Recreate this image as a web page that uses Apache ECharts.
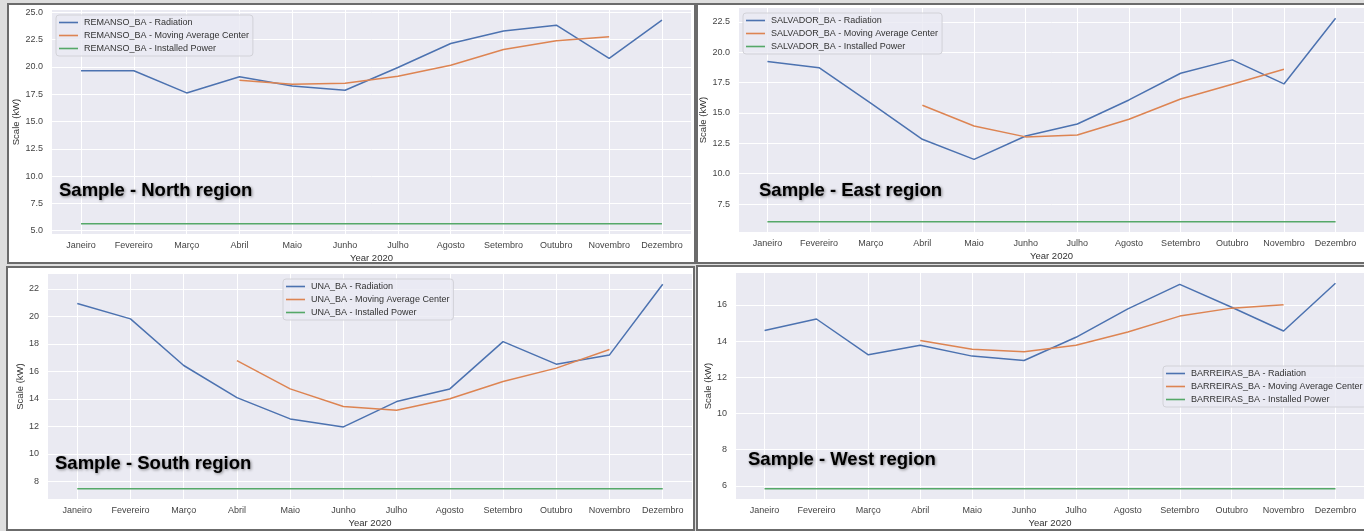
<!DOCTYPE html>
<html>
<head>
<meta charset="utf-8">
<script src="https://cdn.jsdelivr.net/npm/echarts@6/dist/echarts.min.js"></script>
<style>
  html, body { margin: 0; padding: 0; background: #dedede; }
  #main { width: 1364px; height: 531px; }
</style>
</head>
<body>
<div id="main"></div>
<script>
var months = ['Janeiro', 'Fevereiro', 'Março', 'Abril', 'Maio', 'Junho', 'Julho', 'Agosto', 'Setembro', 'Outubro', 'Novembro', 'Dezembro']

// North - REMANSO_BA
var remansoRad = [19.65, 19.65, 17.62, 19.1, 18.26, 17.87, 19.95, 22.15, 23.3, 23.83, 20.78, 24.29]
var remansoAvg = [null, null, null, 18.78, 18.42, 18.5, 19.15, 20.16, 21.6, 22.4, 22.76, null]
var remansoPow = [5.62, 5.62, 5.62, 5.62, 5.62, 5.62, 5.62, 5.62, 5.62, 5.62, 5.62, 5.62]
// East - SALVADOR_BA
var salvadorRad = [19.23, 18.73, 15.8, 12.83, 11.18, 13.1, 14.09, 16.07, 18.27, 19.37, 17.39, 22.8]
var salvadorAvg = [null, null, null, 15.63, 13.93, 13.03, 13.18, 14.48, 16.15, 17.36, 18.6, null]
var salvadorPow = [6.04, 6.04, 6.04, 6.04, 6.04, 6.04, 6.04, 6.04, 6.04, 6.04, 6.04, 6.04]
// South - UNA_BA
var unaRad = [20.93, 19.82, 16.43, 14.1, 12.55, 11.97, 13.81, 14.73, 18.17, 16.53, 17.2, 22.34]
var unaAvg = [null, null, null, 16.79, 14.73, 13.45, 13.18, 14.01, 15.27, 16.24, 17.59, null]
var unaPow = [7.47, 7.47, 7.47, 7.47, 7.47, 7.47, 7.47, 7.47, 7.47, 7.47, 7.47, 7.47]
// West - BARREIRAS_BA
var barreirasRad = [14.59, 15.22, 13.24, 13.77, 13.17, 12.93, 14.21, 15.78, 17.13, 15.87, 14.56, 17.19]
var barreirasAvg = [null, null, null, 14.03, 13.55, 13.41, 13.77, 14.5, 15.38, 15.82, 16.0, null]
var barreirasPow = [5.85, 5.85, 5.85, 5.85, 5.85, 5.85, 5.85, 5.85, 5.85, 5.85, 5.85, 5.85]

var ticksP1 = [5, 7.5, 10, 12.5, 15, 17.5, 20, 22.5, 25]
var ticksP2 = [7.5, 10, 12.5, 15, 17.5, 20, 22.5]
var ticksP3 = [8, 10, 12, 14, 16, 18, 20, 22]
var ticksP4 = [6, 8, 10, 12, 14, 16]

var panels = [
  { city: 'REMANSO_BA', label: 'Sample - North region', rad: remansoRad, avg: remansoAvg, pow: remansoPow,
    ticks: ticksP1, dec: 1, ymin: 4.69, ymax: 25.22, nameGap: 30,
    grid: { left: 52, top: 10, width: 639, height: 224 },
    legend: { left: 56, top: 15 }, text: [59, 191], frame: [8, 4, 687, 259] },
  { city: 'SALVADOR_BA', label: 'Sample - East region', rad: salvadorRad, avg: salvadorAvg, pow: salvadorPow,
    ticks: ticksP2, dec: 1, ymin: 5.2, ymax: 23.64, nameGap: 30,
    grid: { left: 739, top: 8, width: 631, height: 224 },
    legend: { left: 743, top: 13 }, text: [759, 191], frame: [697, 4, 680, 259] },
  { city: 'UNA_BA', label: 'Sample - South region', rad: unaRad, avg: unaAvg, pow: unaPow,
    ticks: ticksP3, dec: 0, ymin: 6.73, ymax: 23.08, nameGap: 23,
    grid: { left: 48, top: 274, width: 644, height: 225 },
    legend: { left: 283, top: 279 }, text: [55, 464], frame: [7, 267, 687, 263] },
  { city: 'BARREIRAS_BA', label: 'Sample - West region', rad: barreirasRad, avg: barreirasAvg, pow: barreirasPow,
    ticks: ticksP4, dec: 0, ymin: 5.28, ymax: 17.76, nameGap: 22,
    grid: { left: 736, top: 273, width: 635, height: 226 },
    legend: { left: 1163, top: 366 }, text: [748, 460], frame: [697, 266, 680, 264] }
]

var xIdx = months.map(function (m, k) { return k })

function toPairs(arr) {
  return arr.map(function (v, k) { return [k, v] }).filter(function (d) { return d[1] != null })
}

var grids = [], xAxes = [], yAxes = [], series = [], legends = [], graphics = []
var colors = ['#4C72B0', '#DD8452', '#55A868']

panels.forEach(function (p, i) {
  grids.push(Object.assign({ show: true, backgroundColor: '#EAEAF2', borderWidth: 0 }, p.grid))
  xAxes.push({
    type: 'value', gridIndex: i, min: -0.55, max: 11.55,
    name: 'Year 2020', nameLocation: 'middle', nameGap: 19,
    nameTextStyle: { fontSize: 9.5, color: '#333' },
    axisLine: { show: false },
    axisTick: { show: false, customValues: xIdx },
    axisLabel: { customValues: xIdx, fontSize: 9, color: '#444', margin: 7,
      formatter: function (v) { return months[Math.round(v)] } },
    splitLine: { show: true, lineStyle: { color: '#fff', width: 1 } }
  })
  yAxes.push({
    type: 'value', gridIndex: i, min: p.ymin, max: p.ymax,
    name: 'Scale (kW)', nameLocation: 'middle', nameGap: p.nameGap,
    nameTextStyle: { fontSize: 9.5, color: '#333' },
    axisLine: { show: false },
    axisTick: { show: false, customValues: p.ticks },
    axisLabel: { customValues: p.ticks, fontSize: 9, color: '#444', margin: 9,
      formatter: function (v) { return v.toFixed(p.dec) } },
    splitLine: { show: true, lineStyle: { color: '#fff', width: 1 } }
  })
  var names = [p.city + ' - Radiation', p.city + ' - Moving Average Center', p.city + ' - Installed Power']
  var datas = [p.rad, p.avg, p.pow]
  names.forEach(function (n, j) {
    series.push({
      name: n, type: 'line', xAxisIndex: i, yAxisIndex: i,
      data: toPairs(datas[j]), showSymbol: false, symbol: 'none',
      lineStyle: { color: colors[j], width: 1.5 }, itemStyle: { color: colors[j] },
      z: 2 + j
    })
  })
  legends.push({
    data: names, orient: 'vertical', left: p.legend.left, top: p.legend.top,
    icon: 'rect', itemWidth: 19, itemHeight: 1.6, itemGap: 2,
    padding: [2, 4, 2, 3],
    backgroundColor: 'rgba(234,234,242,0.8)', borderColor: '#d2d2d8', borderWidth: 1, borderRadius: 3,
    textStyle: { fontSize: 9, color: '#333', lineHeight: 11, padding: [0, 0, 0, 1] }
  })
  graphics.push({
    type: 'rect', z: -10, silent: true,
    shape: { x: p.frame[0], y: p.frame[1], width: p.frame[2], height: p.frame[3] },
    style: { fill: '#ffffff', stroke: '#6b6b6b', lineWidth: 2 }
  })
  graphics.push({
    type: 'text', z: 100, silent: true, x: p.text[0], y: p.text[1],
    style: {
      text: p.label, font: 'bold 18.5px "Liberation Sans", Arial, sans-serif', fill: '#000',
      verticalAlign: 'middle', textVerticalAlign: 'middle',
      textShadowColor: 'rgba(0,0,0,0.45)', textShadowBlur: 3, textShadowOffsetX: 1, textShadowOffsetY: 1
    }
  })
})

var chart = echarts.init(document.getElementById('main'), null, { renderer: 'canvas' })
chart.setOption({
  backgroundColor: '#dedede',
  animation: false,
  textStyle: { fontFamily: '"Liberation Sans", Arial, sans-serif' },
  grid: grids,
  xAxis: xAxes,
  yAxis: yAxes,
  legend: legends,
  graphic: graphics,
  series: series
})
</script>
</body>
</html>
